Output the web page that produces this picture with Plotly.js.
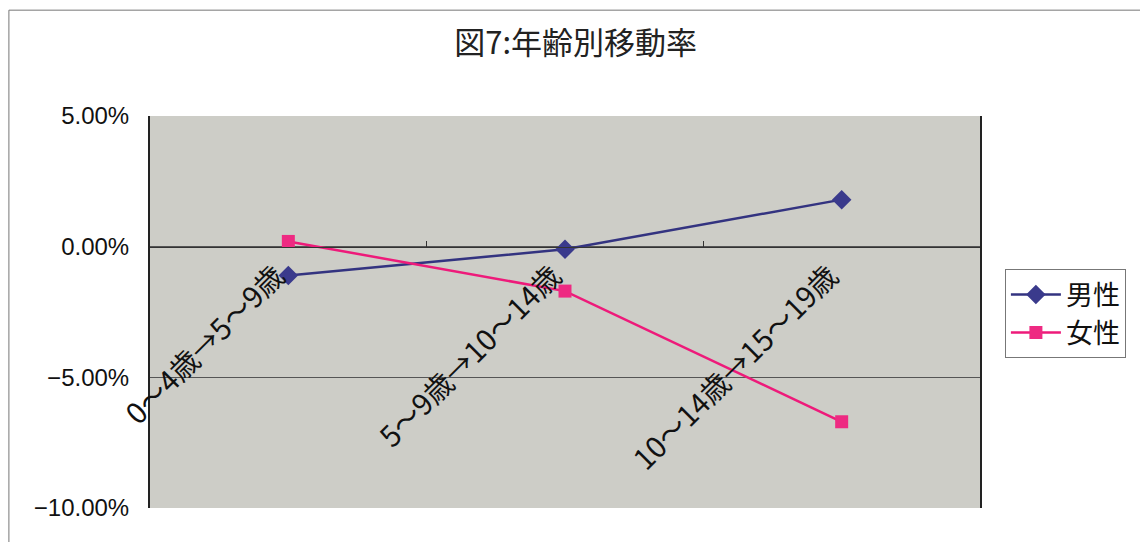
<!DOCTYPE html>
<html><head><meta charset="utf-8">
<script src="https://cdn.plot.ly/plotly-3.0.1.min.js"></script>
<style>html,body{margin:0;padding:0;background:#fff;}</style>
</head><body>
<div id="chart" style="width:1140px;height:542px;"></div>
<script>
const categories = ["0～4歳→5～9歳", "5～9歳→10～14歳", "10～14歳→15～19歳"];
const maleRates = [-0.011, -0.001, 0.018];
const femaleRates = [0.002, -0.017, -0.067];
const seriesNames = ["男性", "女性"];
const yTicks = [0.05, 0, -0.05, -0.10];

const cjk = '"Noto Sans CJK JP", sans-serif';
const traces = [
  {x: categories, y: maleRates, name: seriesNames[0], type: 'scatter', mode: 'lines+markers',
   line: {color: '#333380', width: 2.5}, marker: {symbol: 'diamond', size: 15, color: '#3a3a8c'}},
  {x: categories, y: femaleRates, name: seriesNames[1], type: 'scatter', mode: 'lines+markers',
   line: {color: '#ee1a7a', width: 2.5}, marker: {symbol: 'square', size: 13, color: '#ee2a82'}}
];
const layout = {
  width: 1140, height: 542,
  margin: {l: 150, r: 160, t: 116, b: 34},
  paper_bgcolor: '#ffffff', plot_bgcolor: '#cdcdc7',
  title: {text: '図7:年齢別移動率', x: 0.505, xanchor: 'center', y: 0.92, yanchor: 'middle',
          font: {family: cjk, size: 31, color: '#222'}},
  xaxis: {type: 'category', anchor: 'free', position: 2/3, showline: true, linecolor: '#333', linewidth: 1,
          ticks: 'inside', ticklen: 6, tickcolor: '#333', tickson: 'boundaries', tickangle: -45,
          showgrid: false, zeroline: false, tickfont: {family: cjk, size: 29, color: '#111'},
          ticklabelshift: -12, range: [-0.5, 2.5]},
  yaxis: {range: [-0.10, 0.05], tickvals: yTicks, tickformat: '.2%', showgrid: true, gridcolor: '#555',
          gridwidth: 1, zeroline: false, showline: true, mirror: true, linecolor: '#222', linewidth: 2,
          ticks: '', ticklen: 0, tickfont: {family: '"Liberation Sans", sans-serif', size: 24, color: '#111'},
          ticklabelstandoff: 14},
  legend: {x: 1.03, xanchor: 'left', y: 0.495, yanchor: 'middle', bgcolor: '#fff', bordercolor: '#777',
           borderwidth: 1, font: {family: cjk, size: 27, color: '#111'},
           tracegroupgap: 0, itemwidth: 50},
  shapes: [
    {type: 'rect', xref: 'paper', yref: 'paper', x0: -0.17, x1: 1.21, y0: -0.2, y1: 1.27,
     line: {color: '#777', width: 1}, fillcolor: 'rgba(0,0,0,0)', layer: 'below'}
  ],
  showlegend: true
};
Plotly.newPlot('chart', traces, layout, {displayModeBar: false, staticPlot: true});
</script>
</body></html>
